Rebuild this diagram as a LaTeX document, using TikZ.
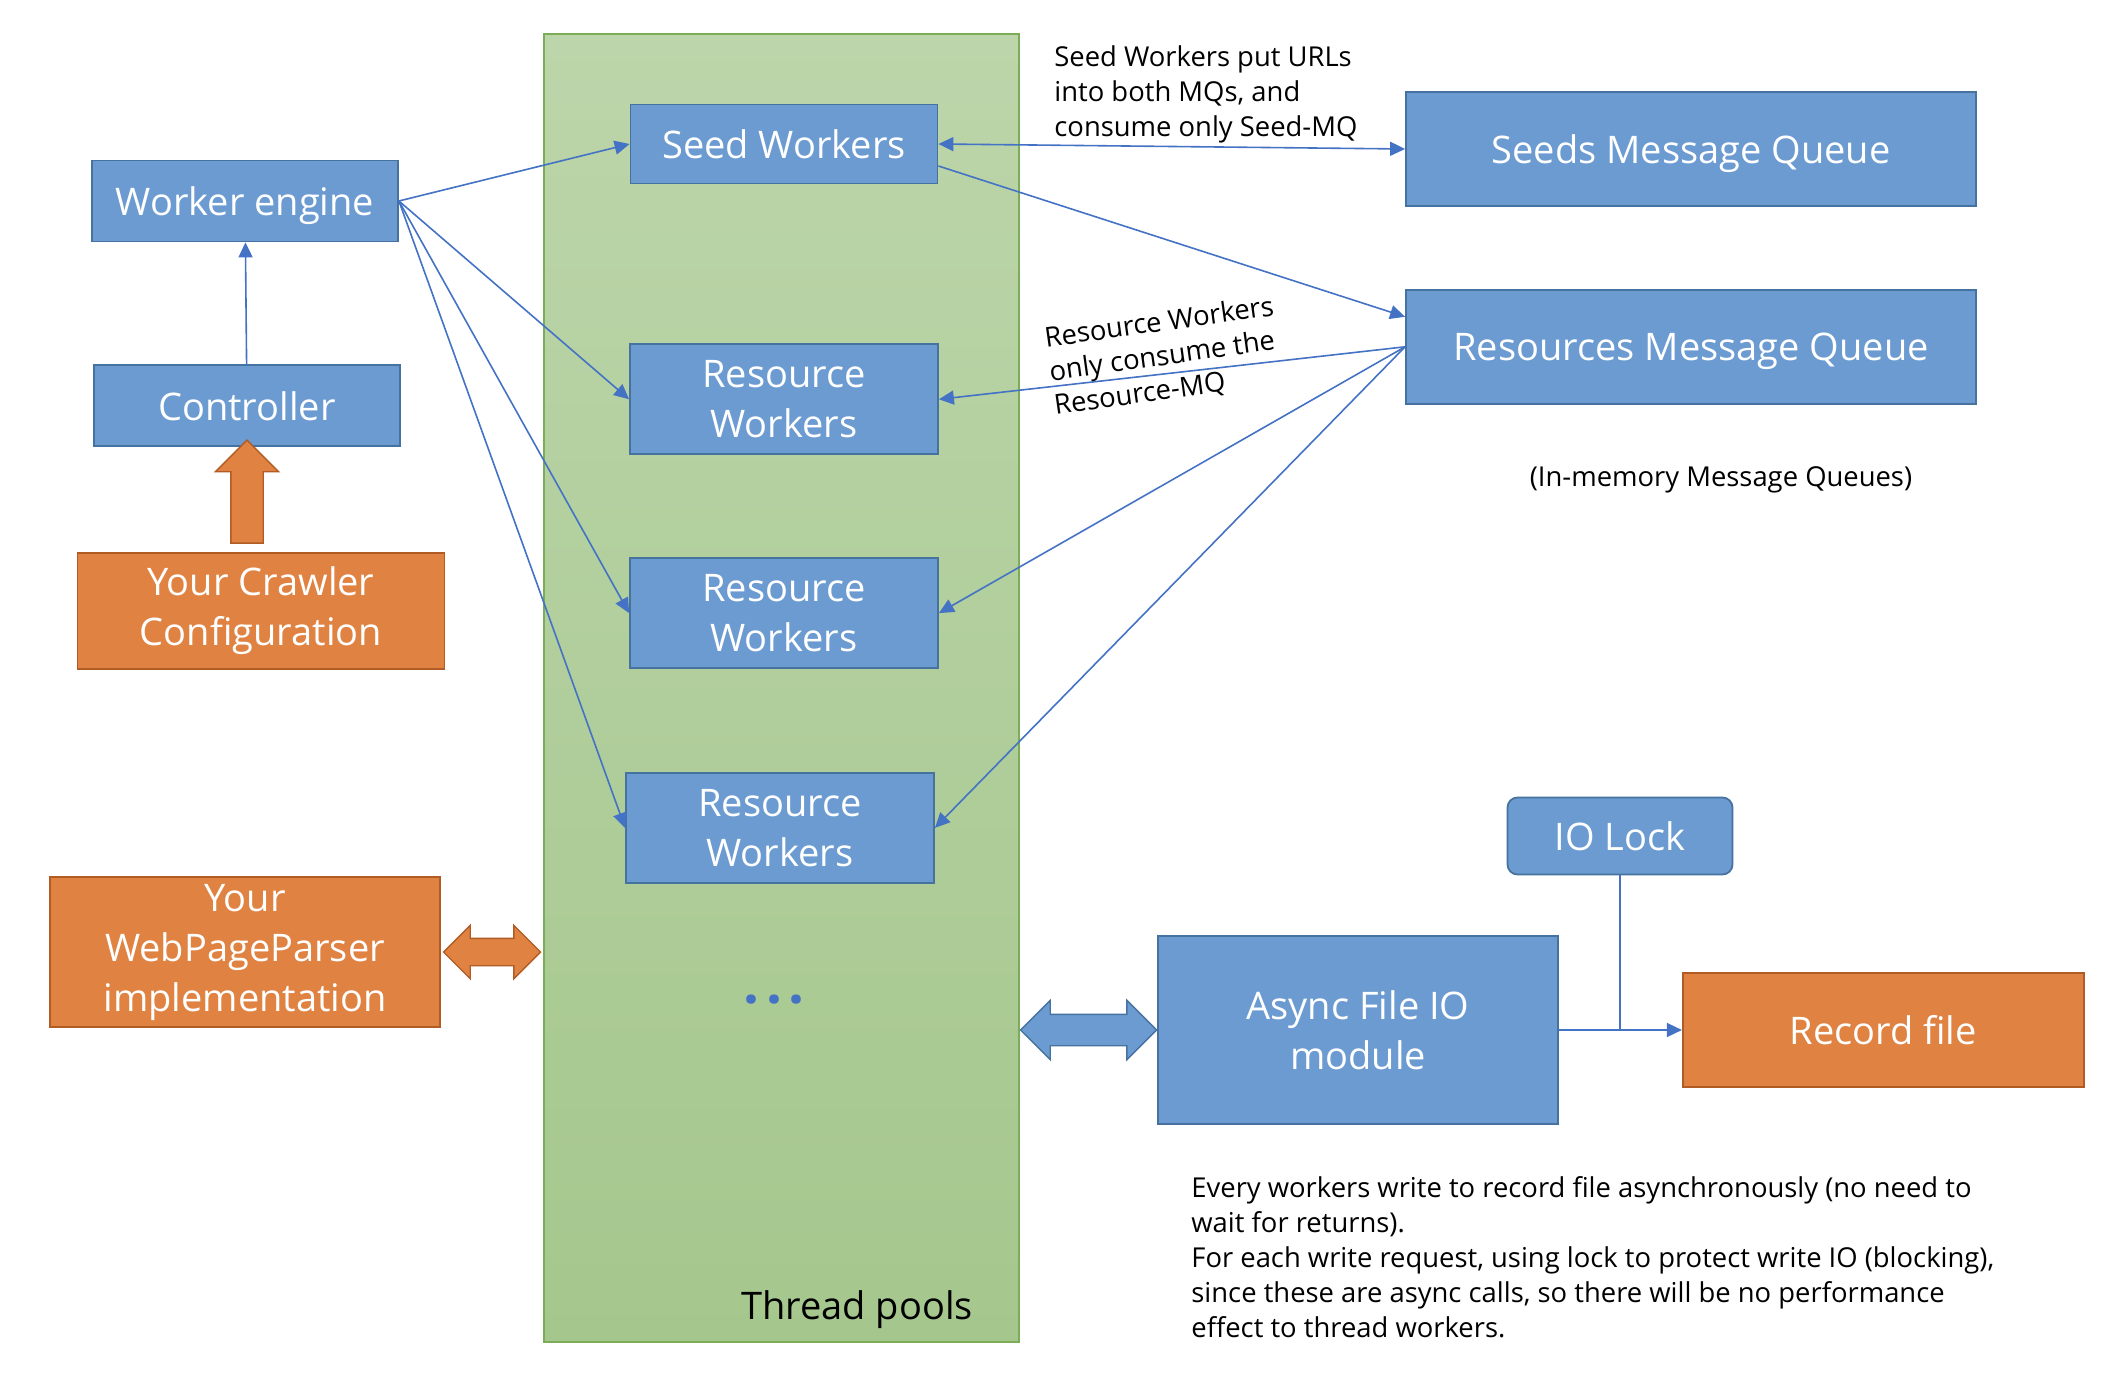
\documentclass[tikz,border=0pt]{standalone}
\usepackage{fontspec}
\setmainfont{Open Sans}
\usepackage{tikz}
\usetikzlibrary{arrows.meta, positioning, shapes.arrows, calc}

\definecolor{boxblue}{RGB}{107,155,209}
\definecolor{boxblueline}{RGB}{70,114,160}
\definecolor{boxorange}{RGB}{224,130,66}
\definecolor{boxorangeline}{RGB}{176,92,36}
\definecolor{linkblue}{RGB}{68,114,196}
\definecolor{pooltop}{RGB}{188,213,170}
\definecolor{poolbottom}{RGB}{165,199,141}
\definecolor{poolline}{RGB}{122,173,86}

\begin{document}
\begin{tikzpicture}[
    x=0.5pt, y=-0.5pt,
    box/.style={draw=boxblueline, line width=0.9pt, rectangle, fill=boxblue, text=white, align=center, inner sep=2pt, font=\fontsize{19}{25}\selectfont},
    userbox/.style={box, draw=boxorangeline, fill=boxorange},
    note/.style={align=left, inner sep=0pt, font=\fontsize{13.7}{17.5}\selectfont},
    arrow/.style={draw=linkblue, line width=0.8pt, ->, >={Stealth[length=7.5pt, width=7pt, inset=0pt]}},
    fatarrow/.style={double arrow, draw=boxorangeline, fill=boxorange, line width=0.7pt, inner xsep=0pt}
]
\useasboundingbox (0,0) rectangle (2128,1384);

% Thread pool
\node[draw=poolline, line width=0.9pt, top color=pooltop, bottom color=poolbottom, minimum width=237.5pt, minimum height=654pt] (pool) at (781.5,688) {};
\node[font=\fontsize{19}{25}\selectfont] (poolname) at (857,1310) {Thread pools};
\node[text=linkblue, font=\fontsize{28}{28}\selectfont\bfseries] (dots) at (774,1000) {.\hspace{3.5pt}.\hspace{3.5pt}.};

% Left column
\node[box, minimum width=153pt, minimum height=40.5pt, text depth=0pt] (engine) at (245,201) {Worker engine};
\node[box, minimum width=153pt, minimum height=40.5pt, below=61pt of engine, xshift=1pt] (ctrl) {Controller};
\node[userbox, minimum width=183.5pt, minimum height=58pt, below=52.5pt of ctrl, xshift=7pt] (crawler) {Your Crawler\\Configuration};
\node[userbox, minimum width=195pt, minimum height=75pt] (parser) at (245,952) {Your\\WebPageParser\\implementation};

% Workers
\node[box, minimum width=153.5pt, minimum height=39.5pt] (seedw) at (784,144) {Seed Workers};
\node[box, minimum width=154pt, minimum height=55pt, below=79.5pt of seedw] (res1) {Resource\\Workers};
\node[box, minimum width=154pt, minimum height=55pt, below=51pt of res1] (res2) {Resource\\Workers};
\node[box, minimum width=154pt, minimum height=55pt, below=51.5pt of res2, xshift=-2pt] (res3) {Resource\\Workers};

% Message queues
\node[box, minimum width=285pt, minimum height=57pt, text depth=0pt] (seedmq) at (1691,149) {Seeds Message Queue};
\node[box, minimum width=285pt, minimum height=57pt, text depth=0pt, below=41pt of seedmq] (resmq) {Resources Message Queue};
\node[note] (mqnote) at (1721,480) {(In-memory Message Queues)};

% File IO
\node[box, minimum width=200pt, minimum height=94pt] (async) at (1358,1030) {Async File IO\\module};
\node[userbox, minimum width=200.5pt, minimum height=57pt, right=61.5pt of async] (record) {Record file};
\node[box, rounded corners=5pt, minimum width=112.5pt, minimum height=38.5pt] (iolock) at (1620,836) {IO Lock};

% Notes
\node[note, anchor=west] (seednote) at (1054,94) {Seed Workers put URLs\\into both MQs, and\\consume only Seed-MQ};
\node[note, rotate=8, font=\fontsize{13.7}{17}\selectfont] (resnote) at (1164,357) {Resource Workers\\only consume the\\Resource-MQ};
\node[note, anchor=west] (ionote) at (1191,1257) {Every workers write to record file asynchronously (no need to\\wait for returns).\\For each write request, using lock to protect write IO (blocking),\\since these are async calls, so there will be no performance\\effect to thread workers.};

% Fat arrows
\node[single arrow, draw=boxorangeline, fill=boxorange, line width=0.7pt, rotate=90, minimum height=51.5pt, inner xsep=0pt, inner ysep=7.75pt, single arrow head extend=7.75pt] (cfgarrow) at ($(ctrl.south)!0.5!(ctrl.south |- crawler.north)$) {};
\node[fatarrow, minimum height=48.5pt, inner ysep=6.5pt, double arrow head extend=6.5pt] (parserarrow) at ($(parser.east)!0.5!(pool.west |- parser.east)$) {};
\node[fatarrow, draw=boxblueline, fill=boxblue, minimum height=68pt, inner ysep=7.5pt, double arrow head extend=7pt] (ioarrow) at ($(pool.east |- async.west)!0.5!(async.west)$) {};

% Connections
\draw[arrow] (ctrl) -- (engine);
\foreach \w in {seedw, res1, res2, res3} {
    \draw[arrow] (engine.east) -- (\w.west);
}
\draw[arrow, <->] (seedw.east) -- (seedmq.west);
\draw[arrow] ([yshift=-11pt]seedw.east) -- ([yshift=15pt]resmq.west);
\foreach \w in {res1, res2, res3} {
    \draw[arrow] (resmq.west) -- (\w.east);
}
\draw[arrow] (async.east) -- (async.east -| record.west);
\draw[draw=linkblue, line width=0.8pt] (iolock.south) -- (iolock.south |- async.east);

\end{tikzpicture}
\end{document}
